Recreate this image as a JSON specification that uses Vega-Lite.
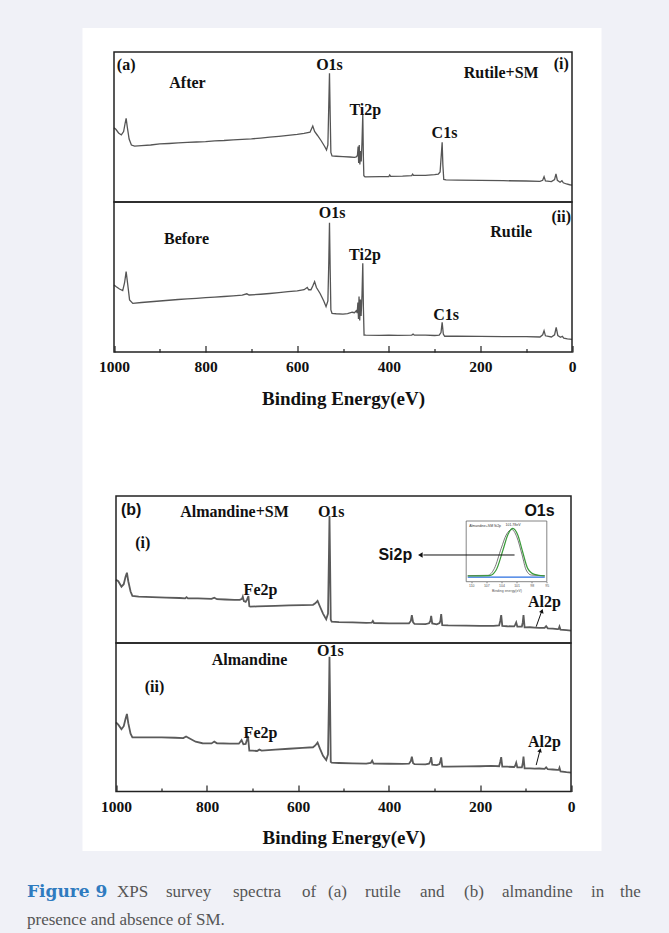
{
  "$schema": "https://vega.github.io/schema/vega-lite/v6.json",
  "background": "#f0f1f7",
  "padding": {"left": 15, "top": 28, "right": 0, "bottom": 0},
  "center": true,
  "spacing": 0,
  "config": {"view": {"stroke": null}},
  "vconcat": [
    {
      "width": 519,
      "height": 823,
      "view": {"fill": "white", "stroke": null},
      "resolve": {"scale": {"x": "independent", "y": "independent"}},
      "layer": [
        {
          "resolve": {"scale": {"y": "independent"}, "axis": {"x": "independent"}},
          "layer": [
            {
              "layer": [
                {
                  "data": {"values": [
                    {"eV":1000,"counts":49.5},{"eV":996,"counts":48.5},{"eV":990,"counts":46},{"eV":984,"counts":44.7},{"eV":979,"counts":47},{"eV":976,"counts":52},{"eV":973.5,"counts":55.8},{"eV":971,"counts":50},{"eV":967,"counts":42},{"eV":962,"counts":38},{"eV":955,"counts":37.3},{"eV":940,"counts":37.6},{"eV":920,"counts":38},{"eV":900,"counts":38.7},{"eV":880,"counts":39},{"eV":860,"counts":39.4},{"eV":840,"counts":39.7},{"eV":820,"counts":40},{"eV":800,"counts":40.3},{"eV":780,"counts":40.8},{"eV":760,"counts":41},{"eV":740,"counts":41.4},{"eV":720,"counts":41.8},{"eV":700,"counts":42.1},{"eV":680,"counts":42.6},{"eV":660,"counts":43.2},{"eV":640,"counts":43.8},{"eV":620,"counts":44.4},{"eV":600,"counts":45.1},{"eV":585,"counts":45.8},{"eV":572,"counts":46.5},{"eV":566,"counts":50.7},{"eV":562,"counts":47},{"eV":556,"counts":44.5},{"eV":548,"counts":41},{"eV":540,"counts":37},{"eV":536,"counts":34.7},{"eV":533,"counts":38},{"eV":531,"counts":65},{"eV":529.5,"counts":85.8},{"eV":528,"counts":58},{"eV":526.5,"counts":33},{"eV":524,"counts":30.7},{"eV":515,"counts":30.5},{"eV":500,"counts":30.2},{"eV":485,"counts":30},{"eV":475,"counts":29.8},{"eV":471,"counts":30},{"eV":468.5,"counts":31},{"eV":467,"counts":37},{"eV":465.8,"counts":26},{"eV":464.5,"counts":38},{"eV":463.2,"counts":25},{"eV":461.5,"counts":34},{"eV":460.2,"counts":27},{"eV":458.5,"counts":40},{"eV":456.8,"counts":58.7},{"eV":455.5,"counts":30},{"eV":454.5,"counts":17.5},{"eV":452,"counts":16.8},{"eV":420,"counts":16.9},{"eV":400,"counts":17},{"eV":398,"counts":18},{"eV":396,"counts":17.1},{"eV":370,"counts":17.3},{"eV":350,"counts":17.6},{"eV":348,"counts":18.6},{"eV":346,"counts":17.7},{"eV":320,"counts":17.8},{"eV":300,"counts":18.2},{"eV":292,"counts":18.5},{"eV":288,"counts":20},{"eV":283.5,"counts":39.8},{"eV":282,"counts":25},{"eV":280,"counts":15},{"eV":275,"counts":14.7},{"eV":250,"counts":14.6},{"eV":200,"counts":14.4},{"eV":150,"counts":14.2},{"eV":100,"counts":14},{"eV":70,"counts":13.8},{"eV":64,"counts":14.5},{"eV":61,"counts":16.9},{"eV":58,"counts":14},{"eV":45,"counts":13.6},{"eV":38,"counts":15},{"eV":35,"counts":18.7},{"eV":32,"counts":14.5},{"eV":26,"counts":13.2},{"eV":22,"counts":14.2},{"eV":19,"counts":12.8},{"eV":12,"counts":12},{"eV":5,"counts":11.5},{"eV":0,"counts":11.3}
                  ]},
                  "mark": {"type": "line", "color": "#555555", "strokeWidth": 1.3},
                  "encoding": {
                    "x": {"field": "eV", "type": "quantitative", "scale": {"domain": [1000, 0], "range": [31.5, 489.5], "nice": false, "zero": false},
                      "axis": {"orient": "bottom", "offset": -499, "values": [900, 700, 500, 300, 100], "labels": false, "title": null, "domain": false, "grid": false, "tickSize": -3.5, "tickColor": "#222222", "tickWidth": 1.2}},
                    "y": {"field": "counts", "type": "quantitative", "scale": {"domain": [0, 100], "range": [174, 24], "nice": false, "zero": false}, "axis": null}
                  }
                },
                {
                  "data": {"values": [{}]},
                  "mark": {"type": "rect", "filled": false, "stroke": "#222222", "strokeWidth": 1.5},
                  "encoding": {
                    "x": {"datum": 1000, "type": "quantitative", "scale": {"domain": [1000, 0], "range": [31.5, 489.5], "nice": false, "zero": false}},
                    "x2": {"datum": 0},
                    "y": {"datum": 0, "type": "quantitative", "scale": {"domain": [0, 100], "range": [174, 24], "nice": false, "zero": false}, "axis": null},
                    "y2": {"datum": 100}
                  }
                },
                {
                  "data": {"values": [
                    {"label": "(a)", "eV": 973.4, "counts": 91.3},
                    {"label": "After", "eV": 839.5, "counts": 79.1},
                    {"label": "O1s", "eV": 529.5, "counts": 91.3},
                    {"label": "Rutile+SM", "eV": 154.6, "counts": 85.8},
                    {"label": "(i)", "eV": 23.6, "counts": 92},
                    {"label": "Ti2p", "eV": 451.3, "counts": 61.3},
                    {"label": "C1s", "eV": 278.4, "counts": 45.8}
                  ]},
                  "mark": {"type": "text", "font": "Liberation Serif", "fontWeight": "bold", "fontSize": 16, "color": "#111111", "align": "center", "baseline": "middle"},
                  "encoding": {
                    "x": {"field": "eV", "type": "quantitative", "scale": {"domain": [1000, 0], "range": [31.5, 489.5], "nice": false, "zero": false}},
                    "y": {"field": "counts", "type": "quantitative", "scale": {"domain": [0, 100], "range": [174, 24], "nice": false, "zero": false}, "axis": null},
                    "text": {"field": "label"}
                  }
                }
              ]
            },
            {
              "layer": [
                {
                  "data": {"values": [
                    {"eV":1000,"counts":44.7},{"eV":995,"counts":43.5},{"eV":988,"counts":42},{"eV":981,"counts":40.9},{"eV":977,"counts":46},{"eV":973.5,"counts":53.6},{"eV":970,"counts":45},{"eV":966,"counts":34.7},{"eV":959,"counts":32.4},{"eV":940,"counts":33},{"eV":920,"counts":33.5},{"eV":900,"counts":34},{"eV":880,"counts":34.5},{"eV":860,"counts":35},{"eV":840,"counts":35.4},{"eV":820,"counts":35.8},{"eV":800,"counts":36.2},{"eV":780,"counts":36.6},{"eV":760,"counts":37},{"eV":740,"counts":37.4},{"eV":720,"counts":37.9},{"eV":710,"counts":38.8},{"eV":705,"counts":38},{"eV":680,"counts":38.5},{"eV":660,"counts":39},{"eV":640,"counts":39.6},{"eV":620,"counts":40.2},{"eV":600,"counts":40.8},{"eV":585,"counts":41.5},{"eV":578,"counts":43},{"eV":575,"counts":41.5},{"eV":570,"counts":41.5},{"eV":566,"counts":44},{"eV":562,"counts":46.9},{"eV":558,"counts":43},{"eV":550,"counts":39},{"eV":542,"counts":34},{"eV":537,"counts":30.2},{"eV":533,"counts":34},{"eV":531,"counts":60},{"eV":529.5,"counts":86.2},{"eV":528,"counts":55},{"eV":526.5,"counts":28},{"eV":524,"counts":25.8},{"eV":515,"counts":25.5},{"eV":500,"counts":25.3},{"eV":490,"counts":25.6},{"eV":480,"counts":26.5},{"eV":475,"counts":26.2},{"eV":471,"counts":27.5},{"eV":469,"counts":26},{"eV":467.5,"counts":33},{"eV":466.2,"counts":22},{"eV":465,"counts":37},{"eV":463.5,"counts":21},{"eV":462,"counts":35},{"eV":460.5,"counts":24},{"eV":458.5,"counts":38},{"eV":456.8,"counts":59.1},{"eV":455.5,"counts":30},{"eV":454,"counts":11.3},{"eV":450,"counts":11.2},{"eV":420,"counts":11.1},{"eV":400,"counts":11.2},{"eV":380,"counts":11.1},{"eV":350,"counts":11.3},{"eV":347,"counts":11.9},{"eV":344,"counts":11.2},{"eV":320,"counts":11.2},{"eV":300,"counts":11},{"eV":290,"counts":11.2},{"eV":286,"counts":13},{"eV":283.5,"counts":19.8},{"eV":281,"counts":12},{"eV":278,"counts":10.5},{"eV":250,"counts":10.5},{"eV":200,"counts":10.4},{"eV":150,"counts":10.3},{"eV":100,"counts":10.2},{"eV":70,"counts":10},{"eV":64,"counts":11.5},{"eV":61,"counts":14.2},{"eV":58,"counts":10.8},{"eV":45,"counts":10},{"eV":38,"counts":11.5},{"eV":34.5,"counts":16.4},{"eV":31,"counts":11},{"eV":25,"counts":9.8},{"eV":21,"counts":10.5},{"eV":18,"counts":9.3},{"eV":10,"counts":8.8},{"eV":0,"counts":8.4}
                  ]},
                  "mark": {"type": "line", "color": "#555555", "strokeWidth": 1.3},
                  "encoding": {
                    "x": {"field": "eV", "type": "quantitative", "scale": {"domain": [1000, 0], "range": [31.5, 489.5], "nice": false, "zero": false},
                      "axis": {"orient": "bottom", "offset": -499, "values": [1000, 800, 600, 400, 200, 0], "format": "d", "title": "Binding Energy(eV)", "domain": false, "grid": false, "tickSize": -6.5, "tickColor": "#222222", "tickWidth": 1.2, "labelFont": "Liberation Serif", "labelFontWeight": "bold", "labelFontSize": 15.5, "labelColor": "#111111", "labelPadding": 14, "labelFlush": false, "labelOverlap": false, "titleFont": "Liberation Serif", "titleFontWeight": "bold", "titleFontSize": 19, "titleColor": "#111111", "titlePadding": 14}},
                    "y": {"field": "counts", "type": "quantitative", "scale": {"domain": [0, 100], "range": [324, 174], "nice": false, "zero": false}, "axis": null}
                  }
                },
                {
                  "data": {"values": [{}]},
                  "mark": {"type": "rect", "filled": false, "stroke": "#222222", "strokeWidth": 1.5},
                  "encoding": {
                    "x": {"datum": 1000, "type": "quantitative", "scale": {"domain": [1000, 0], "range": [31.5, 489.5], "nice": false, "zero": false}},
                    "x2": {"datum": 0},
                    "y": {"datum": 0, "type": "quantitative", "scale": {"domain": [0, 100], "range": [324, 174], "nice": false, "zero": false}, "axis": null},
                    "y2": {"datum": 100}
                  }
                },
                {
                  "data": {"values": [
                    {"label": "O1s", "eV": 524, "counts": 92.5},
                    {"label": "(ii)", "eV": 23.6, "counts": 90.2},
                    {"label": "Before", "eV": 841.7, "counts": 75.1},
                    {"label": "Rutile", "eV": 132.8, "counts": 80.2},
                    {"label": "Ti2p", "eV": 452, "counts": 64.7},
                    {"label": "C1s", "eV": 274.7, "counts": 24.7}
                  ]},
                  "mark": {"type": "text", "font": "Liberation Serif", "fontWeight": "bold", "fontSize": 16, "color": "#111111", "align": "center", "baseline": "middle"},
                  "encoding": {
                    "x": {"field": "eV", "type": "quantitative", "scale": {"domain": [1000, 0], "range": [31.5, 489.5], "nice": false, "zero": false}},
                    "y": {"field": "counts", "type": "quantitative", "scale": {"domain": [0, 100], "range": [324, 174], "nice": false, "zero": false}, "axis": null},
                    "text": {"field": "label"}
                  }
                }
              ]
            }
          ]
        },
        {
          "resolve": {"scale": {"y": "independent"}, "axis": {"x": "independent"}},
          "layer": [
            {
              "layer": [
                {
                  "data": {"values": [
                    {"eV":1000,"counts":43},{"eV":995,"counts":42},{"eV":988,"counts":38.3},{"eV":983,"counts":40},{"eV":979,"counts":45},{"eV":976,"counts":47.8},{"eV":973,"counts":42},{"eV":968,"counts":35},{"eV":964,"counts":32},{"eV":950,"counts":31.6},{"eV":920,"counts":31.2},{"eV":890,"counts":30.9},{"eV":860,"counts":30.6},{"eV":848,"counts":30.4},{"eV":845,"counts":31.2},{"eV":842,"counts":30.4},{"eV":820,"counts":30.3},{"eV":790,"counts":30},{"eV":784,"counts":30.8},{"eV":778,"counts":29.8},{"eV":760,"counts":29.6},{"eV":740,"counts":29.4},{"eV":728,"counts":29.3},{"eV":723,"counts":30},{"eV":721.3,"counts":31.5},{"eV":719,"counts":28.5},{"eV":715,"counts":28},{"eV":712,"counts":29.5},{"eV":709,"counts":32},{"eV":707,"counts":25},{"eV":705,"counts":24.7},{"eV":690,"counts":24.9},{"eV":670,"counts":25.1},{"eV":650,"counts":25.3},{"eV":620,"counts":25.6},{"eV":590,"counts":25.8},{"eV":567,"counts":26},{"eV":562,"counts":27},{"eV":557,"counts":28.6},{"eV":552,"counts":25},{"eV":545,"counts":20},{"eV":538,"counts":16.1},{"eV":534,"counts":20},{"eV":532,"counts":60},{"eV":530.8,"counts":86.4},{"eV":529.5,"counts":55},{"eV":528,"counts":16},{"eV":526,"counts":14.5},{"eV":510,"counts":14.2},{"eV":480,"counts":14},{"eV":450,"counts":13.7},{"eV":438,"counts":13.8},{"eV":435.5,"counts":15},{"eV":433,"counts":13.6},{"eV":400,"counts":13.4},{"eV":370,"counts":13.3},{"eV":356,"counts":13.4},{"eV":352,"counts":15},{"eV":349.8,"counts":19},{"eV":347,"counts":14},{"eV":344,"counts":13},{"eV":320,"counts":12.9},{"eV":312,"counts":13.4},{"eV":309,"counts":15},{"eV":307.3,"counts":18.4},{"eV":305,"counts":13.3},{"eV":295,"counts":12.7},{"eV":289,"counts":13.5},{"eV":287,"counts":15},{"eV":285.3,"counts":19.6},{"eV":283,"counts":12.2},{"eV":270,"counts":12},{"eV":230,"counts":11.8},{"eV":200,"counts":11.7},{"eV":170,"counts":11.7},{"eV":158,"counts":12},{"eV":155.5,"counts":15},{"eV":153.4,"counts":19},{"eV":151,"counts":11.7},{"eV":140,"counts":11.4},{"eV":125,"counts":11.3},{"eV":122.5,"counts":12.5},{"eV":120.4,"counts":14},{"eV":118,"counts":11.2},{"eV":108,"counts":11.2},{"eV":106,"counts":14},{"eV":104.4,"counts":19},{"eV":102,"counts":10.6},{"eV":90,"counts":10.7},{"eV":80,"counts":10.5},{"eV":70,"counts":10.3},{"eV":58,"counts":10.3},{"eV":54.6,"counts":11.5},{"eV":51,"counts":10},{"eV":40,"counts":9.8},{"eV":30,"counts":9.5},{"eV":27,"counts":9.6},{"eV":25.3,"counts":11.2},{"eV":23,"counts":9},{"eV":10,"counts":8.7},{"eV":0,"counts":8.4}
                  ]},
                  "mark": {"type": "line", "color": "#5a5a5a", "strokeWidth": 1.8},
                  "encoding": {
                    "x": {"field": "eV", "type": "quantitative", "scale": {"domain": [1000, 0], "range": [33.5, 488.5], "nice": false, "zero": false},
                      "axis": {"orient": "bottom", "offset": -59.5, "values": [900, 700, 500, 300, 100], "labels": false, "title": null, "domain": false, "grid": false, "tickSize": -3.5, "tickColor": "#222222", "tickWidth": 1.2}},
                    "y": {"field": "counts", "type": "quantitative", "scale": {"domain": [0, 100], "range": [615, 468], "nice": false, "zero": false}, "axis": null}
                  }
                },
                {
                  "data": {"values": [{}]},
                  "mark": {"type": "rect", "filled": false, "stroke": "#222222", "strokeWidth": 1.5},
                  "encoding": {
                    "x": {"datum": 1000, "type": "quantitative", "scale": {"domain": [1000, 0], "range": [33.5, 488.5], "nice": false, "zero": false}},
                    "x2": {"datum": 0},
                    "y": {"datum": 0, "type": "quantitative", "scale": {"domain": [0, 100], "range": [615, 468], "nice": false, "zero": false}, "axis": null},
                    "y2": {"datum": 100}
                  }
                },
                {
                  "data": {"values": [
                    {"label": "Almandine+SM", "eV": 739.6, "counts": 89.3},
                    {"label": "O1s", "eV": 527, "counts": 89.3},
                    {"label": "(i)", "eV": 941.1, "counts": 67.8},
                    {"label": "Fe2p", "eV": 682.4, "counts": 36.1},
                    {"label": "Al2p", "eV": 58.2, "counts": 28.1}
                  ]},
                  "mark": {"type": "text", "font": "Liberation Serif", "fontWeight": "bold", "fontSize": 16, "color": "#111111", "align": "center", "baseline": "middle"},
                  "encoding": {
                    "x": {"field": "eV", "type": "quantitative", "scale": {"domain": [1000, 0], "range": [33.5, 488.5], "nice": false, "zero": false}},
                    "y": {"field": "counts", "type": "quantitative", "scale": {"domain": [0, 100], "range": [615, 468], "nice": false, "zero": false}, "axis": null},
                    "text": {"field": "label"}
                  }
                },
                {
                  "data": {"values": [
                    {"label": "(b)", "eV": 966.6, "counts": 90.5},
                    {"label": "O1s", "eV": 69.2, "counts": 90},
                    {"label": "Si2p", "eV": 386.2, "counts": 59.9}
                  ]},
                  "mark": {"type": "text", "font": "Liberation Sans", "fontWeight": "bold", "fontSize": 16, "color": "#111111", "align": "center", "baseline": "middle"},
                  "encoding": {
                    "x": {"field": "eV", "type": "quantitative", "scale": {"domain": [1000, 0], "range": [33.5, 488.5], "nice": false, "zero": false}},
                    "y": {"field": "counts", "type": "quantitative", "scale": {"domain": [0, 100], "range": [615, 468], "nice": false, "zero": false}, "axis": null},
                    "text": {"field": "label"}
                  }
                },
                {
                  "data": {"values": [{"eV": 76.5, "counts": 11.1}, {"eV": 64.5, "counts": 21.5}]},
                  "mark": {"type": "line", "color": "#111111", "strokeWidth": 1},
                  "encoding": {
                    "x": {"field": "eV", "type": "quantitative", "scale": {"domain": [1000, 0], "range": [33.5, 488.5], "nice": false, "zero": false}},
                    "y": {"field": "counts", "type": "quantitative", "scale": {"domain": [0, 100], "range": [615, 468], "nice": false, "zero": false}, "axis": null}
                  }
                },
                {
                  "data": {"values": [{"eV": 63.8, "counts": 21.8}]},
                  "mark": {"type": "point", "shape": "triangle-up", "filled": true, "color": "#111111", "size": 22, "angle": 20, "opacity": 1},
                  "encoding": {
                    "x": {"field": "eV", "type": "quantitative", "scale": {"domain": [1000, 0], "range": [33.5, 488.5], "nice": false, "zero": false}},
                    "y": {"field": "counts", "type": "quantitative", "scale": {"domain": [0, 100], "range": [615, 468], "nice": false, "zero": false}, "axis": null}
                  }
                }
              ]
            },
            {
              "layer": [
                {
                  "data": {"values": [
                    {"eV":1000,"counts":46.5},{"eV":995,"counts":45},{"eV":988,"counts":41.9},{"eV":983,"counts":44},{"eV":979,"counts":49},{"eV":976,"counts":52.2},{"eV":973,"counts":46},{"eV":968,"counts":39},{"eV":964,"counts":36.5},{"eV":940,"counts":36.5},{"eV":900,"counts":36.4},{"eV":870,"counts":36.2},{"eV":852,"counts":36},{"eV":846,"counts":37},{"eV":840,"counts":36},{"eV":825,"counts":33.5},{"eV":810,"counts":32.5},{"eV":790,"counts":32.4},{"eV":784,"counts":33.6},{"eV":778,"counts":32.5},{"eV":750,"counts":32.3},{"eV":730,"counts":32.2},{"eV":724,"counts":34.6},{"eV":720,"counts":31.8},{"eV":715,"counts":32},{"eV":712,"counts":35},{"eV":710,"counts":37.4},{"eV":707,"counts":27.5},{"eV":700,"counts":27.5},{"eV":690,"counts":27.3},{"eV":685,"counts":28.2},{"eV":680,"counts":27.5},{"eV":650,"counts":28.2},{"eV":620,"counts":28.8},{"eV":590,"counts":29.4},{"eV":567,"counts":29.8},{"eV":562,"counts":31},{"eV":557,"counts":33},{"eV":552,"counts":29},{"eV":545,"counts":24},{"eV":538,"counts":21.2},{"eV":534,"counts":25},{"eV":532,"counts":62},{"eV":530.8,"counts":90.8},{"eV":529.5,"counts":60},{"eV":528,"counts":20},{"eV":526,"counts":19.4},{"eV":510,"counts":19.2},{"eV":480,"counts":19},{"eV":450,"counts":18.8},{"eV":440,"counts":19.2},{"eV":437,"counts":20.8},{"eV":434,"counts":18.8},{"eV":400,"counts":18.7},{"eV":370,"counts":18.6},{"eV":356,"counts":18.7},{"eV":352,"counts":20.5},{"eV":349.8,"counts":23.5},{"eV":347,"counts":19},{"eV":344,"counts":18.5},{"eV":320,"counts":18.3},{"eV":312,"counts":18.7},{"eV":309,"counts":20.5},{"eV":307.3,"counts":23.1},{"eV":305,"counts":18},{"eV":295,"counts":17.8},{"eV":289,"counts":18.5},{"eV":287,"counts":20.5},{"eV":285.3,"counts":23},{"eV":283,"counts":16.7},{"eV":270,"counts":16.8},{"eV":230,"counts":16.9},{"eV":200,"counts":17},{"eV":175,"counts":17.2},{"eV":158,"counts":17},{"eV":155.5,"counts":20},{"eV":153.4,"counts":23.1},{"eV":151,"counts":16.7},{"eV":140,"counts":16.7},{"eV":125,"counts":16.5},{"eV":122.5,"counts":17.5},{"eV":120.4,"counts":19.4},{"eV":118,"counts":16.3},{"eV":108,"counts":16.2},{"eV":106,"counts":19},{"eV":104.4,"counts":23.5},{"eV":102,"counts":15.6},{"eV":90,"counts":15.6},{"eV":80,"counts":15.4},{"eV":70,"counts":15.5},{"eV":58,"counts":15.3},{"eV":54.6,"counts":16.3},{"eV":51,"counts":15},{"eV":40,"counts":14.8},{"eV":30,"counts":14.5},{"eV":27,"counts":14.5},{"eV":25.3,"counts":16},{"eV":23,"counts":13.5},{"eV":10,"counts":13},{"eV":0,"counts":12.7}
                  ]},
                  "mark": {"type": "line", "color": "#5a5a5a", "strokeWidth": 1.8},
                  "encoding": {
                    "x": {"field": "eV", "type": "quantitative", "scale": {"domain": [1000, 0], "range": [33.5, 488.5], "nice": false, "zero": false},
                      "axis": {"orient": "bottom", "offset": -59.5, "values": [1000, 800, 600, 400, 200, 0], "format": "d", "title": "Binding Energy(eV)", "domain": false, "grid": false, "tickSize": -6.5, "tickColor": "#222222", "tickWidth": 1.2, "labelFont": "Liberation Serif", "labelFontWeight": "bold", "labelFontSize": 15.5, "labelColor": "#111111", "labelPadding": 14, "labelFlush": false, "labelOverlap": false, "titleFont": "Liberation Serif", "titleFontWeight": "bold", "titleFontSize": 19, "titleColor": "#111111", "titlePadding": 14}},
                    "y": {"field": "counts", "type": "quantitative", "scale": {"domain": [0, 100], "range": [763.5, 615], "nice": false, "zero": false}, "axis": null}
                  }
                },
                {
                  "data": {"values": [{}]},
                  "mark": {"type": "rect", "filled": false, "stroke": "#222222", "strokeWidth": 1.5},
                  "encoding": {
                    "x": {"datum": 1000, "type": "quantitative", "scale": {"domain": [1000, 0], "range": [33.5, 488.5], "nice": false, "zero": false}},
                    "x2": {"datum": 0},
                    "y": {"datum": 0, "type": "quantitative", "scale": {"domain": [0, 100], "range": [763.5, 615], "nice": false, "zero": false}, "axis": null},
                    "y2": {"datum": 100}
                  }
                },
                {
                  "data": {"values": [
                    {"label": "O1s", "eV": 529, "counts": 94.8},
                    {"label": "Almandine", "eV": 706.6, "counts": 88.6},
                    {"label": "(ii)", "eV": 915.4, "counts": 70.2},
                    {"label": "Fe2p", "eV": 682.4, "counts": 39.6},
                    {"label": "Al2p", "eV": 58.2, "counts": 33.5}
                  ]},
                  "mark": {"type": "text", "font": "Liberation Serif", "fontWeight": "bold", "fontSize": 16, "color": "#111111", "align": "center", "baseline": "middle"},
                  "encoding": {
                    "x": {"field": "eV", "type": "quantitative", "scale": {"domain": [1000, 0], "range": [33.5, 488.5], "nice": false, "zero": false}},
                    "y": {"field": "counts", "type": "quantitative", "scale": {"domain": [0, 100], "range": [763.5, 615], "nice": false, "zero": false}, "axis": null},
                    "text": {"field": "label"}
                  }
                },
                {
                  "data": {"values": [{"eV": 76.5, "counts": 17.8}, {"eV": 68.5, "counts": 27.3}]},
                  "mark": {"type": "line", "color": "#111111", "strokeWidth": 1},
                  "encoding": {
                    "x": {"field": "eV", "type": "quantitative", "scale": {"domain": [1000, 0], "range": [33.5, 488.5], "nice": false, "zero": false}},
                    "y": {"field": "counts", "type": "quantitative", "scale": {"domain": [0, 100], "range": [763.5, 615], "nice": false, "zero": false}, "axis": null}
                  }
                },
                {
                  "data": {"values": [{"eV": 67.9, "counts": 27.8}]},
                  "mark": {"type": "point", "shape": "triangle-up", "filled": true, "color": "#111111", "size": 22, "angle": 18, "opacity": 1},
                  "encoding": {
                    "x": {"field": "eV", "type": "quantitative", "scale": {"domain": [1000, 0], "range": [33.5, 488.5], "nice": false, "zero": false}},
                    "y": {"field": "counts", "type": "quantitative", "scale": {"domain": [0, 100], "range": [763.5, 615], "nice": false, "zero": false}, "axis": null}
                  }
                }
              ]
            }
          ]
        },
        {
          "layer": [
            {
              "data": {"values": [{}]},
              "mark": {"type": "rect", "fill": "white", "stroke": "#666666", "strokeWidth": 0.8},
              "encoding": {
                "x": {"datum": 111, "type": "quantitative", "scale": {"domain": [111, 95], "range": [383.7, 464.3], "nice": false, "zero": false}},
                "x2": {"datum": 95},
                "y": {"datum": 0, "type": "quantitative", "scale": {"domain": [0, 100], "range": [553.7, 493], "nice": false, "zero": false}, "axis": null},
                "y2": {"datum": 100}
              }
            },
            {
              "data": {"values": [{"eV": 110.7, "counts": 7.5}, {"eV": 95.4, "counts": 7.5}]},
              "mark": {"type": "line", "color": "#2a6fe0", "strokeWidth": 1.3},
              "encoding": {
                "x": {"field": "eV", "type": "quantitative", "scale": {"domain": [111, 95], "range": [383.7, 464.3], "nice": false, "zero": false}},
                "y": {"field": "counts", "type": "quantitative", "scale": {"domain": [0, 100], "range": [553.7, 493], "nice": false, "zero": false}, "axis": null}
              }
            },
            {
              "data": {"values": [
                {"eV":110.7,"counts":10},{"eV":106.7,"counts":10.5},{"eV":105.4,"counts":22},{"eV":104.05,"counts":55},{"eV":103.06,"counts":77},{"eV":101.95,"counts":86},{"eV":100.96,"counts":74},{"eV":99.9,"counts":44},{"eV":99.1,"counts":19.3},{"eV":98.1,"counts":11},{"eV":95.4,"counts":10}
              ]},
              "mark": {"type": "line", "color": "#555555", "strokeWidth": 0.8, "interpolate": "monotone"},
              "encoding": {
                "x": {"field": "eV", "type": "quantitative", "scale": {"domain": [111, 95], "range": [383.7, 464.3], "nice": false, "zero": false},
                  "axis": {"orient": "bottom", "offset": -269.3, "values": [110, 107, 104, 101, 98, 95], "format": "d", "title": "Binding energy(eV)", "domain": false, "grid": false, "tickSize": 1, "tickColor": "#666666", "labelFontSize": 3.5, "labelColor": "#555555", "labelPadding": 1, "labelFlush": false, "labelOverlap": false, "titleFontSize": 3.5, "titleColor": "#555555", "titleFontWeight": "normal", "titlePadding": 1}},
                "y": {"field": "counts", "type": "quantitative", "scale": {"domain": [0, 100], "range": [553.7, 493], "nice": false, "zero": false}, "axis": null}
              }
            },
            {
              "data": {"values": [
                {"eV":110.7,"counts":9.4},{"eV":106.4,"counts":10},{"eV":105.05,"counts":19.3},{"eV":103.7,"counts":52.2},{"eV":102.75,"counts":77},{"eV":101.75,"counts":88},{"eV":100.76,"counts":77},{"eV":99.8,"counts":49.4},{"eV":98.8,"counts":22},{"eV":97.45,"counts":12},{"eV":95.4,"counts":9.4}
              ]},
              "mark": {"type": "line", "color": "#3a9a3a", "strokeWidth": 1.2, "interpolate": "monotone"},
              "encoding": {
                "x": {"field": "eV", "type": "quantitative", "scale": {"domain": [111, 95], "range": [383.7, 464.3], "nice": false, "zero": false}},
                "y": {"field": "counts", "type": "quantitative", "scale": {"domain": [0, 100], "range": [553.7, 493], "nice": false, "zero": false}, "axis": null}
              }
            },
            {
              "data": {"values": [
                {"label": "Almandine+SM Si2p", "eV": 110.4, "counts": 92},
                {"label": "101.78eV", "eV": 103.2, "counts": 94}
              ]},
              "mark": {"type": "text", "fontSize": 3.5, "color": "#333333", "align": "left", "baseline": "middle"},
              "encoding": {
                "x": {"field": "eV", "type": "quantitative", "scale": {"domain": [111, 95], "range": [383.7, 464.3], "nice": false, "zero": false}},
                "y": {"field": "counts", "type": "quantitative", "scale": {"domain": [0, 100], "range": [553.7, 493], "nice": false, "zero": false}, "axis": null},
                "text": {"field": "label"}
              }
            },
            {
              "data": {"values": [{"eV": 101.4, "counts": 44}, {"eV": 119.5, "counts": 44}]},
              "mark": {"type": "line", "color": "#111111", "strokeWidth": 1},
              "encoding": {
                "x": {"field": "eV", "type": "quantitative", "scale": {"domain": [111, 95], "range": [383.7, 464.3], "nice": false, "zero": false}},
                "y": {"field": "counts", "type": "quantitative", "scale": {"domain": [0, 100], "range": [553.7, 493], "nice": false, "zero": false}, "axis": null}
              }
            },
            {
              "data": {"values": [{"eV": 120.1, "counts": 44}]},
              "mark": {"type": "point", "shape": "triangle-left", "filled": true, "color": "#111111", "size": 28, "opacity": 1},
              "encoding": {
                "x": {"field": "eV", "type": "quantitative", "scale": {"domain": [111, 95], "range": [383.7, 464.3], "nice": false, "zero": false}},
                "y": {"field": "counts", "type": "quantitative", "scale": {"domain": [0, 100], "range": [553.7, 493], "nice": false, "zero": false}, "axis": null}
              }
            }
          ]
        }
      ]
    },
    {
      "width": 654,
      "height": 82,
      "layer": [
        {"data": {"values": [{"t": "Figure 9"}]}, "mark": {"type": "text", "font": "DejaVu Serif", "fontWeight": "bold", "fontSize": 17, "color": "#2f7bbf", "align": "left", "baseline": "middle", "x": 12, "y": 41}, "encoding": {"text": {"field": "t"}}},
        {"data": {"values": [{"t": "XPS"}]}, "mark": {"type": "text", "font": "Liberation Serif", "fontSize": 17, "color": "#555555", "align": "left", "baseline": "middle", "x": 102, "y": 41}, "encoding": {"text": {"field": "t"}}},
        {"data": {"values": [{"t": "survey"}]}, "mark": {"type": "text", "font": "Liberation Serif", "fontSize": 17, "color": "#555555", "align": "left", "baseline": "middle", "x": 151, "y": 41}, "encoding": {"text": {"field": "t"}}},
        {"data": {"values": [{"t": "spectra"}]}, "mark": {"type": "text", "font": "Liberation Serif", "fontSize": 17, "color": "#555555", "align": "left", "baseline": "middle", "x": 218, "y": 41}, "encoding": {"text": {"field": "t"}}},
        {"data": {"values": [{"t": "of"}]}, "mark": {"type": "text", "font": "Liberation Serif", "fontSize": 17, "color": "#555555", "align": "left", "baseline": "middle", "x": 287, "y": 41}, "encoding": {"text": {"field": "t"}}},
        {"data": {"values": [{"t": "(a)"}]}, "mark": {"type": "text", "font": "Liberation Serif", "fontSize": 17, "color": "#555555", "align": "left", "baseline": "middle", "x": 313, "y": 41}, "encoding": {"text": {"field": "t"}}},
        {"data": {"values": [{"t": "rutile"}]}, "mark": {"type": "text", "font": "Liberation Serif", "fontSize": 17, "color": "#555555", "align": "left", "baseline": "middle", "x": 350, "y": 41}, "encoding": {"text": {"field": "t"}}},
        {"data": {"values": [{"t": "and"}]}, "mark": {"type": "text", "font": "Liberation Serif", "fontSize": 17, "color": "#555555", "align": "left", "baseline": "middle", "x": 405, "y": 41}, "encoding": {"text": {"field": "t"}}},
        {"data": {"values": [{"t": "(b)"}]}, "mark": {"type": "text", "font": "Liberation Serif", "fontSize": 17, "color": "#555555", "align": "left", "baseline": "middle", "x": 449, "y": 41}, "encoding": {"text": {"field": "t"}}},
        {"data": {"values": [{"t": "almandine"}]}, "mark": {"type": "text", "font": "Liberation Serif", "fontSize": 17, "color": "#555555", "align": "left", "baseline": "middle", "x": 487, "y": 41}, "encoding": {"text": {"field": "t"}}},
        {"data": {"values": [{"t": "in"}]}, "mark": {"type": "text", "font": "Liberation Serif", "fontSize": 17, "color": "#555555", "align": "left", "baseline": "middle", "x": 576, "y": 41}, "encoding": {"text": {"field": "t"}}},
        {"data": {"values": [{"t": "the"}]}, "mark": {"type": "text", "font": "Liberation Serif", "fontSize": 17, "color": "#555555", "align": "left", "baseline": "middle", "x": 605, "y": 41}, "encoding": {"text": {"field": "t"}}},
        {"data": {"values": [{"t": "presence and absence of SM."}]}, "mark": {"type": "text", "font": "Liberation Serif", "fontSize": 17, "color": "#555555", "align": "left", "baseline": "middle", "x": 12, "y": 69}, "encoding": {"text": {"field": "t"}}}
      ]
    }
  ]
}
